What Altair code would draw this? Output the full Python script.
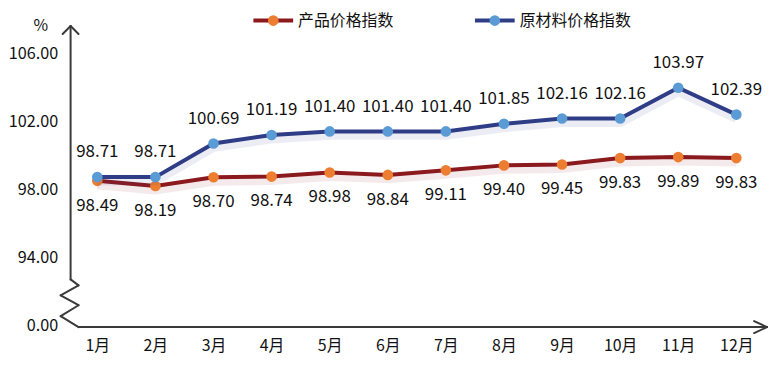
import altair as alt
import pandas as pd

months = ["1月", "2月", "3月", "4月", "5月", "6月", "7月", "8月", "9月", "10月", "11月", "12月"]
product_idx = [98.49, 98.19, 98.70, 98.74, 98.98, 98.84, 99.11, 99.40, 99.45, 99.83, 99.89, 99.83]
raw_idx = [98.71, 98.71, 100.69, 101.19, 101.40, 101.40, 101.40, 101.85, 102.16, 102.16, 103.97, 102.39]
series_names = ["产品价格指数", "原材料价格指数"]
y_ticks = [90, 94, 98, 102, 106]

FONT = "Noto Sans CJK SC"
RED_LINE, ORANGE = "#8B1A1F", "#ED7D31"
NAVY_LINE, LIGHT_BLUE = "#2F3C86", "#5B9BD5"
AXIS_C = "#3a3a3a"

df = pd.DataFrame({
    "month": months * 2,
    "value": product_idx + raw_idx,
    "series": [series_names[0]] * 12 + [series_names[1]] * 12,
})

W, H = 697, 301
xs = alt.X("month:N", sort=months,
           scale=alt.Scale(type="point", padding=0.46),
           axis=alt.Axis(title=None, labelAngle=0, domain=False, ticks=False, grid=False,
                         labelFont=FONT, labelFontSize=16, labelColor="#111",
                         labelPadding=13))
ys = alt.Y("value:Q", scale=alt.Scale(domain=[90, 107.6], nice=False, zero=False),
           axis=alt.Axis(title=None, values=y_ticks, domain=False, ticks=False, grid=False,
                         labelExpr="datum.value == 90 ? '0.00' : format(datum.value, '.2f')",
                         labelFont=FONT, labelFontSize=16.3, labelColor="#111",
                         labelPadding=13))

base = alt.Chart(df)
layers = []
styles = [(series_names[0], RED_LINE, ORANGE, 25),
          (series_names[1], NAVY_LINE, LIGHT_BLUE, -25)]
for name, lc, pc, dy in styles:
    b = base.transform_filter(alt.datum.series == name)
    shadow = b.mark_line(strokeWidth=9, opacity=0.09, yOffset=4, color=lc).encode(x=xs, y=ys)
    line = b.mark_line(strokeWidth=4, color=lc).encode(x=xs, y=ys)
    pts = b.mark_circle(size=115, opacity=1, color=pc).encode(x=xs, y=ys)
    txt = b.mark_text(font=FONT, fontSize=17, color="#111", dy=dy, baseline="middle").encode(
        x=xs, y=ys, text=alt.Text("value:Q", format=".2f"))
    layers += [shadow, line, pts, txt]

one = pd.DataFrame({"a": [0]})
# axis decoration segments (pixel coords relative to plot origin)
OX, OY = 71, 25
segs = [
    ((71, 25), (71, 280)),
    ((63, 33), (71, 25)), ((79, 33), (71, 25)),
    ((71, 280), (79, 286)), ((79, 286), (61, 296)), ((61, 296), (79, 306)),
    ((79, 306), (61, 317)), ((61, 317), (79, 328)),
    ((79, 328), (772, 328)),
    ((759, 322), (772, 328)), ((759, 334), (772, 328)),
]
for (x1, y1), (x2, y2) in segs:
    layers.append(alt.Chart(one).mark_rule(color=AXIS_C, strokeWidth=2, strokeCap="round").encode(
        x=alt.value(x1 - OX), x2=alt.value(x2 - OX), y=alt.value(y1 - OY), y2=alt.value(y2 - OY)))

layers.append(alt.Chart(one).mark_text(font=FONT, fontSize=16, color="#111", align="center",
                                       baseline="middle").encode(
    x=alt.value(41 - OX), y=alt.value(25 - OY), text=alt.value("%")))

# legend
leg = [(series_names[0], RED_LINE, ORANGE, 255, 300), (series_names[1], NAVY_LINE, LIGHT_BLUE, 478, 523)]
for name, lc, pc, lx, tx in leg:
    ly = 19.5 - OY
    layers.append(alt.Chart(one).mark_rule(color=lc, strokeWidth=4).encode(
        x=alt.value(lx - OX), x2=alt.value(lx + 40 - OX), y=alt.value(ly), y2=alt.value(ly)))
    layers.append(alt.Chart(one).mark_circle(size=115, opacity=1, color=pc).encode(
        x=alt.value(lx + 20 - OX), y=alt.value(ly)))
    layers.append(alt.Chart(one).mark_text(font=FONT, fontSize=16, color="#111", align="left",
                                           baseline="middle").encode(
        x=alt.value(tx - OX), y=alt.value(ly), text=alt.value(name)))

chart = alt.layer(*layers).properties(
    width=W, height=H,
    autosize=alt.AutoSizeParams(type="none"),
    padding={"left": 63, "top": 17, "right": 8, "bottom": 40},
    background="white",
).configure_view(stroke=None)

chart.save("out.html", embed_options={"renderer": "svg", "actions": False})
